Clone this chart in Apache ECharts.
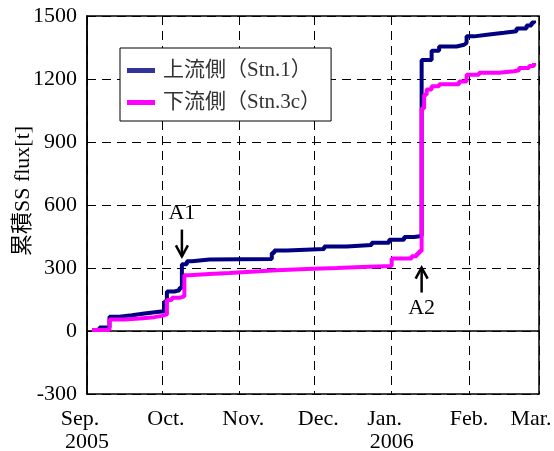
<!DOCTYPE html>
<html>
<head>
<meta charset="utf-8">
<script src="https://cdn.jsdelivr.net/npm/echarts@6/dist/echarts.min.js"></script>
<style>
  html, body { margin: 0; padding: 0; background: #fff; }
  #chart { width: 554px; height: 451px; }
</style>
</head>
<body>
<div id="chart"></div>
<script>
// Cumulative suspended-sediment flux, upstream station (Stn.1)
const upDates = [
  '2005-09-03', '2005-09-06', '2005-09-10', '2005-09-14', '2005-09-19', '2005-09-24',
  '2005-09-29', '2005-10-02', '2005-10-03', '2005-10-06', '2005-10-08', '2005-10-09',
  '2005-10-11', '2005-10-13', '2005-10-20', '2005-11-14', '2005-11-15', '2005-11-20',
  '2005-12-05', '2005-12-14', '2005-12-24', '2005-12-31', '2006-01-06', '2006-01-10',
  '2006-01-13', '2006-01-17', '2006-01-20', '2006-01-27', '2006-01-30', '2006-01-31',
  '2006-02-03', '2006-02-09', '2006-02-15', '2006-02-20', '2006-02-24', '2006-02-26',
  '2006-02-27'
];
const upValues = [
  5, 17, 68, 75, 83, 90,
  94, 140, 188, 194, 205, 318,
  332, 340, 343, 372, 383, 390,
  402, 410, 420, 435, 448, 452,
  1290, 1335, 1355, 1363, 1372, 1403,
  1412, 1420, 1427, 1440, 1455, 1468,
  1478
];

// Cumulative suspended-sediment flux, downstream station (Stn.3c)
const downDates = [
  '2005-09-03', '2005-09-10', '2005-09-16', '2005-09-22', '2005-09-28', '2005-10-01',
  '2005-10-03', '2005-10-05', '2005-10-08', '2005-10-10', '2005-10-12', '2005-10-20',
  '2005-10-28', '2005-11-09', '2005-11-16', '2005-11-28', '2005-12-10', '2005-12-20',
  '2006-01-01', '2006-01-09', '2006-01-11', '2006-01-12', '2006-01-13', '2006-01-14',
  '2006-01-15', '2006-01-17', '2006-01-20', '2006-01-28', '2006-01-31', '2006-02-05',
  '2006-02-13', '2006-02-19', '2006-02-21', '2006-02-25', '2006-02-27'
];
const downValues = [
  5, 55, 60, 66, 72, 79,
  148, 158, 165, 265, 271, 276,
  284, 289, 295, 300, 305, 310,
  345, 356, 368, 380, 1060, 1125,
  1150, 1165, 1175, 1188, 1220, 1230,
  1237, 1242, 1252, 1262, 1276
];

const seriesNames = ['上流側（Stn.1）', '下流側（Stn.3c）'];
const monthLabels = ['Jan.', 'Feb.', 'Mar.', 'Apr.', 'May', 'Jun.', 'Jul.', 'Aug.', 'Sep.', 'Oct.', 'Nov.', 'Dec.'];
const xStart = '2005-09-01';
const xEnd = '2006-03-01';
const yMin = -300, yMax = 1500, yStep = 300;

// Event markers: date, arrow tip value, arrow tail value, label value
const eventNames = ['A1', 'A2'];
const eventDates = ['2005-10-09', '2006-01-13'];
const eventTips = [355, 302];
const eventTails = [483, 183];
const eventLabels = [560, 107];

function toTime(s) {
  const p = s.split('-').map(Number);
  return new Date(p[0], p[1] - 1, p[2]).getTime();
}
function pairs(dates, values) {
  return dates.map((d, i) => [toTime(d), values[i]]);
}

const serif = "'Liberation Serif', 'Noto Sans CJK JP', serif";
const chart = echarts.init(document.getElementById('chart'), null, { renderer: 'canvas' });

// Month names sit slightly left of the tick for the first month of each year
// and the end month, and slightly right of it for the autumn months.
function monthStyle(m) {
  if (m === 8 || m === 0) return 'l';
  if (m === 2) return 'e';
  if (m === 9 || m === 10 || m === 11) return 'r';
  return 'c';
}

chart.setOption({
  animation: false,
  backgroundColor: '#fff',
  grid: {
    left: 87, top: 16, right: 15, bottom: 57,
    outerBoundsMode: 'none',
    containLabel: false,
    show: true, borderColor: '#000', borderWidth: 1.5, backgroundColor: 'transparent'
  },
  legend: {
    orient: 'vertical',
    left: 120, top: 48,
    backgroundColor: '#fff',
    borderColor: '#000', borderWidth: 1,
    padding: [11, 10, 7, 7],
    itemGap: 9,
    itemWidth: 28, itemHeight: 5,
    icon: 'rect',
    textStyle: { fontFamily: serif, fontSize: 21, lineHeight: 23, color: '#333', padding: [0, 0, 0, 3] },
    data: [
      { name: seriesNames[0], itemStyle: { color: '#333399' } },
      { name: seriesNames[1], itemStyle: { color: '#ff00ff' } }
    ]
  },
  xAxis: {
    type: 'time',
    min: toTime(xStart), max: toTime(xEnd),
    splitNumber: 6,
    axisLine: { show: true, lineStyle: { color: '#000', width: 1.5 } },
    axisTick: { show: false },
    splitLine: { show: true, lineStyle: { color: '#000', width: 1, type: [9, 6] } },
    axisLabel: {
      showMinLabel: true, showMaxLabel: true,
      fontFamily: serif, fontSize: 22, lineHeight: 23, color: '#000', margin: 14,
      formatter: function (v) {
        const d = new Date(v);
        const m = d.getMonth();
        let s = '{' + monthStyle(m) + '|' + monthLabels[m] + '}';
        if (m === 8 || m === 0) s += '\n{c|' + d.getFullYear() + '}';
        return s;
      },
      rich: {
        c: { fontFamily: serif, fontSize: 22, lineHeight: 23, color: '#000' },
        l: { fontFamily: serif, fontSize: 22, lineHeight: 23, color: '#000', padding: [0, 14, 0, 0] },
        e: { fontFamily: serif, fontSize: 22, lineHeight: 23, color: '#000', padding: [0, 16, 0, 0] },
        r: { fontFamily: serif, fontSize: 22, lineHeight: 23, color: '#000', padding: [0, 0, 0, 8] }
      }
    }
  },
  yAxis: {
    type: 'value',
    min: yMin, max: yMax, interval: yStep,
    name: '累積SS flux[t]',
    nameLocation: 'middle',
    nameGap: 53,
    nameMoveOverlap: false,
    nameTextStyle: { fontFamily: serif, fontSize: 22, color: '#000', padding: [0, 0, 0, 28] },
    axisLine: { show: true, lineStyle: { color: '#000', width: 1.5 } },
    axisTick: { show: false },
    splitLine: { show: true, lineStyle: { color: '#000', width: 1, type: [9, 6] } },
    axisLabel: {
      fontFamily: serif, fontSize: 22, color: '#000', margin: 10,
      formatter: function (v) { return String(v); }
    }
  },
  series: [
    {
      name: seriesNames[0], type: 'line', step: 'end', showSymbol: false,
      data: pairs(upDates, upValues),
      itemStyle: { color: '#000080' },
      lineStyle: { color: '#000080', width: 4 }
    },
    {
      name: seriesNames[1], type: 'line', step: 'end', showSymbol: false,
      data: pairs(downDates, downValues),
      itemStyle: { color: '#ff00ff' },
      lineStyle: { color: '#ff00ff', width: 4 }
    }
  ]
});

// Event arrows and labels, placed through the chart's own coordinate system
const marks = [];
eventNames.forEach(function (name, i) {
  const t = toTime(eventDates[i]);
  const tip = chart.convertToPixel({ gridIndex: 0 }, [t, eventTips[i]]);
  const tail = chart.convertToPixel({ gridIndex: 0 }, [t, eventTails[i]]);
  const lab = chart.convertToPixel({ gridIndex: 0 }, [t, eventLabels[i]]);
  const dir = tail[1] < tip[1] ? -1 : 1; // -1: arrow points down
  const hx = 6, hy = 11;
  marks.push({
    type: 'line',
    shape: { x1: tip[0], y1: tip[1], x2: tail[0], y2: tail[1] },
    style: { stroke: '#000', lineWidth: 2.5 }, z: 100
  });
  marks.push({
    type: 'polyline',
    shape: { points: [[tip[0] - hx, tip[1] + dir * hy], [tip[0], tip[1]], [tip[0] + hx, tip[1] + dir * hy]] },
    style: { stroke: '#000', lineWidth: 2.5, fill: null }, z: 100
  });
  marks.push({
    type: 'text',
    x: lab[0], y: lab[1],
    style: { text: name, fontFamily: serif, fontSize: 22, fill: '#000', align: 'center', verticalAlign: 'middle' },
    z: 100
  });
});
chart.setOption({ graphic: marks });
</script>
</body>
</html>
